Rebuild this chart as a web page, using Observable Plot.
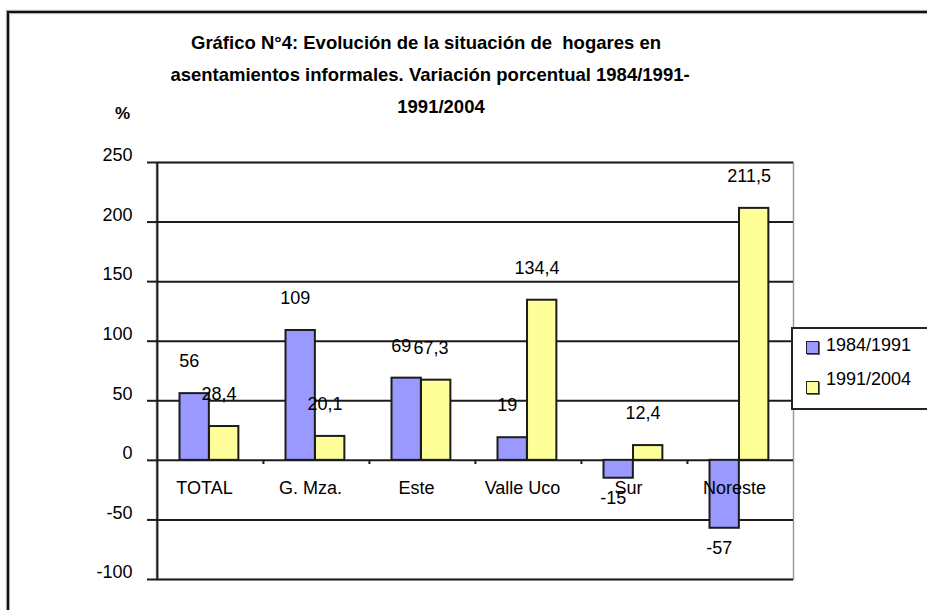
<!DOCTYPE html>
<html><head><meta charset="utf-8">
<script src="https://cdn.jsdelivr.net/npm/d3@7"></script>
<script src="https://cdn.jsdelivr.net/npm/@observablehq/plot@0.6"></script>
<style>
html,body{margin:0;padding:0;background:#fff;overflow:hidden}
#wrap{position:relative;width:927px;height:610px;overflow:hidden;font-family:"Liberation Sans",Arial,sans-serif;color:#000}
#frame{position:absolute;left:7px;top:11px;width:980px;height:700px;border-top:2px solid #111;border-left:2px solid #111;box-shadow:-1px -1px 1px #aaa, inset 1px 1px 1px #aaa}
.t{position:absolute;font-weight:bold;font-size:18.5px;white-space:pre;transform:translateX(-50%);line-height:1}
#chart{position:absolute;left:0;top:0}
#legend{position:absolute;left:791px;top:327px;width:170px;height:79px;border:2px solid #222;background:#fff}
.sw{position:absolute;width:11px;height:11px;border:1.5px solid #222;box-shadow:1px 1px 0 #666}
.lt{position:absolute;font-size:18px;line-height:1;white-space:pre}
</style></head>
<body><div id="wrap">
<div id="frame"></div>
<div id="chart"></div>
<div class="t" style="left:426px;top:34px">Gráfico N°4: Evolución de la situación de  hogares en</div>
<div class="t" style="left:430px;top:65.5px">asentamientos informales. Variación porcentual 1984/1991-</div>
<div class="t" style="left:441px;top:98px">1991/2004</div>
<div class="t" style="left:122.5px;top:105px;font-size:17px">%</div>
<div id="legend"></div>
<div class="sw" id="sw1" style="left:806px;top:341px"></div>
<div class="lt" id="lt1" style="left:826px;top:335.5px"></div>
<div class="sw" id="sw2" style="left:806px;top:381px"></div>
<div class="lt" id="lt2" style="left:826px;top:370px"></div>
</div>
<script>
const categories = ["TOTAL", "G. Mza.", "Este", "Valle Uco", "Sur", "Noreste"];
const series = ["1984/1991", "1991/2004"];
const values1984_1991 = [56, 109, 69, 19, -15, -57];
const values1991_2004 = [28.4, 20.1, 67.3, 134.4, 12.4, 211.5];
const yTicks = [-100, -50, 0, 50, 100, 150, 200, 250];
const colors = ["#9999ff", "#ffff99"];

const W = 927, H = 610, ML = 156, MR = 134, MT = 162, MB = 31;
const bw = (W - ML - MR) / categories.length;
const outerL = bw * 0.212, barW = bw * 0.278;
const rows = categories.map((c, i) => ({cat: c, a: values1984_1991[i], b: values1991_2004[i]}));
const fmt = v => String(v).replace(".", ",");
const ink = "#1c1c1c";

document.getElementById("sw1").style.background = colors[0];
document.getElementById("sw2").style.background = colors[1];
document.getElementById("lt1").textContent = series[0];
document.getElementById("lt2").textContent = series[1];

const chart = Plot.plot({
  width: W, height: H,
  marginLeft: ML, marginRight: MR, marginTop: MT, marginBottom: MB,
  style: {fontFamily: "'Liberation Sans', Arial, sans-serif", fontSize: "18px", color: "#000", background: "transparent", overflow: "visible"},
  x: {type: "band", domain: categories, padding: 0, axis: null},
  y: {domain: [-100, 250]},
  marks: [
    Plot.frame({stroke: "#9a9a9a", strokeWidth: 1.5}),
    Plot.ruleY(yTicks, {stroke: ink, strokeWidth: 2}),
    Plot.ruleX([categories[0]], {dx: -bw / 2, stroke: ink, strokeWidth: 2}),
    Plot.axisY(yTicks, {tickSize: 9, fill: "none", stroke: ink, strokeWidth: 2}),
    Plot.axisY(yTicks, {tickSize: 0, tickPadding: 24, dy: -7, fontSize: 18, fill: "#000", tickFormat: d => String(d)}),
    Plot.ruleX(categories.slice(1), {x: d => d, dx: -bw / 2, y1: 0, y2: -3.5, stroke: ink, strokeWidth: 2}),
    Plot.barY(rows, {x: "cat", y: "a", fill: colors[0], stroke: ink, strokeWidth: 2,
      insetLeft: outerL, insetRight: bw - outerL - barW}),
    Plot.barY(rows, {x: "cat", y: "b", fill: colors[1], stroke: ink, strokeWidth: 2,
      insetLeft: outerL + barW, insetRight: bw - outerL - 2 * barW}),
    Plot.text(rows, {x: "cat", y: () => 0, text: "cat", dx: -6, dy: 27.6, lineAnchor: "middle", fontSize: 18, fill: "#000"}),
    Plot.text(rows.filter(d => d.a >= 0), {x: "cat", y: "a", text: d => fmt(d.a), dx: -21.3, dy: -32, lineAnchor: "middle", fontSize: 18, fill: "#000"}),
    Plot.text(rows.filter(d => d.a < 0), {x: "cat", y: "a", text: d => fmt(d.a), dx: -21.3, dy: 20, lineAnchor: "middle", fontSize: 18, fill: "#000"}),
    Plot.text(rows.filter(d => d.b >= 0), {x: "cat", y: "b", text: d => fmt(d.b), dx: 8.6, dy: -32, lineAnchor: "middle", fontSize: 18, fill: "#000"}),
    Plot.text(rows.filter(d => d.b < 0), {x: "cat", y: "b", text: d => fmt(d.b), dx: 8.6, dy: 20, lineAnchor: "middle", fontSize: 18, fill: "#000"})
  ]
});
document.getElementById("chart").appendChild(chart);
</script>
</body></html>
